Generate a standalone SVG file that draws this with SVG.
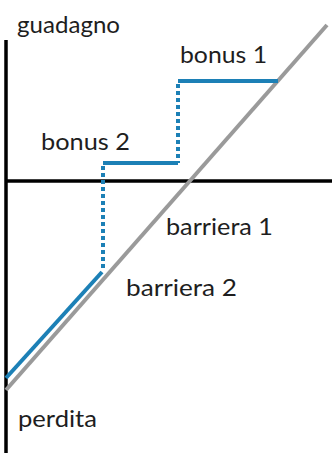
<svg xmlns="http://www.w3.org/2000/svg" width="332" height="453" viewBox="0 0 332 453">
<style>
text{font-family:Lato,"Open Sans",sans-serif;font-size:23px;fill:#1e1e1e}
.ax{stroke:#000;stroke-width:3.5;fill:none}
.gr{stroke:#9a9a9a;stroke-width:4;fill:none}
.bl{stroke:#1c80b6;stroke-width:4;fill:none}
.dt{stroke:#1c80b6;stroke-width:4;fill:none;stroke-dasharray:4 3}
</style>
<rect width="332" height="453" fill="#fff"/>
<g id="connectors">
<line class="ax" x1="6" y1="40" x2="6" y2="453"/>
<line class="ax" x1="6" y1="181" x2="332" y2="181"/>
<line class="gr" x1="327" y1="25" x2="6" y2="390"/>
<path class="bl" d="M178 81 H278"/>
<path class="dt" d="M178 84 V163"/>
<path class="bl" d="M103 163 H178"/>
<path class="dt" d="M103 166 V270"/>
<path class="bl" d="M102 272 L6 378"/>
</g>
<g id="labels">
<text x="17" y="33" textLength="103" lengthAdjust="spacingAndGlyphs">guadagno</text>
<text x="180" y="63" textLength="87" lengthAdjust="spacingAndGlyphs">bonus 1</text>
<text x="41" y="150" textLength="89" lengthAdjust="spacingAndGlyphs">bonus 2</text>
<text x="166" y="235" textLength="107" lengthAdjust="spacingAndGlyphs">barriera 1</text>
<text x="126" y="296" textLength="111" lengthAdjust="spacingAndGlyphs">barriera 2</text>
<text x="18" y="427" textLength="79" lengthAdjust="spacingAndGlyphs">perdita</text>
</g>
</svg>
